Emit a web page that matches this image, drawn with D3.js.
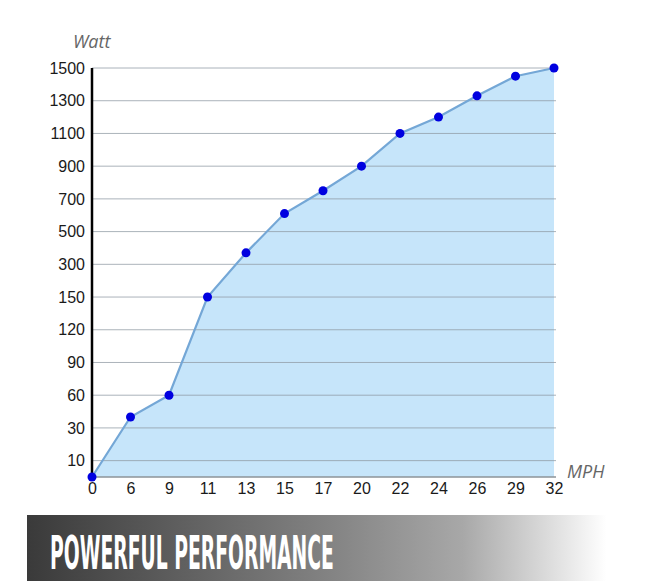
<!DOCTYPE html>
<html>
<head>
<meta charset="utf-8">
<script src="https://cdn.jsdelivr.net/npm/d3@7"></script>
<style>
  body { margin: 0; background: #fff; }
  svg { display: block; }
</style>
</head>
<body>
<svg id="chart" width="650" height="581"></svg>
<script>
// speed categories (x) and power ticks (y)
const speeds = [0, 6, 9, 11, 13, 15, 17, 20, 22, 24, 26, 29, 32];
const watts = [0, 40, 60, 150, 370, 610, 750, 900, 1100, 1200, 1330, 1450, 1500];
const yTicks = [10, 30, 60, 90, 120, 150, 300, 500, 700, 900, 1100, 1300, 1500];

const svg = d3.select("#chart");

const area_attr = {
    left: 92,
    right: 554,
    top: 68,
    bottom: 477
};

const scX = d3.scalePoint()
    .domain(speeds)
    .range([area_attr.left, area_attr.right]);

// y ticks are evenly spaced, 0 sits half a step under 10
const step = (area_attr.bottom - area_attr.top) / (yTicks.length - 0.5);
const scY = d3.scaleLinear()
    .domain([0].concat(yTicks))
    .range([area_attr.bottom].concat(yTicks.map((d, i) => area_attr.bottom - step / 2 - i * step)));

const points = speeds.map((s, i) => ({ x: s, y: watts[i] }));

// filled area
svg.append("path")
    .datum(points)
    .attr("d", d3.area()
        .x(d => scX(d.x))
        .y0(area_attr.bottom)
        .y1(d => scY(d.y)))
    .style("fill", "#c6e5fa");

// grid lines
svg.append("g")
    .selectAll("line")
    .data(yTicks)
    .enter()
    .append("line")
    .attr("x1", area_attr.left)
    .attr("x2", area_attr.right + 2)
    .attr("y1", d => scY(d))
    .attr("y2", d => scY(d))
    .style("stroke", "#8f9aa3")
    .style("stroke-opacity", 0.75)
    .style("stroke-width", 1);

svg.append("line")
    .attr("x1", area_attr.left)
    .attr("x2", area_attr.right + 2)
    .attr("y1", area_attr.bottom)
    .attr("y2", area_attr.bottom)
    .style("stroke", "#8c9398")
    .style("stroke-width", 1.5);

// y axis
const axisY = d3.axisLeft(scY)
    .tickValues(yTicks)
    .tickFormat(d3.format("d"))
    .tickSize(0)
    .tickPadding(7);
const gY = svg.append("g")
    .attr("transform", `translate(${area_attr.left}, 0)`)
    .call(axisY);
gY.select(".domain").remove();
gY.selectAll("text")
    .style("font-family", "Liberation Sans, Arial, sans-serif")
    .style("font-size", "16px")
    .style("fill", "#1a1a1a");

svg.append("line")
    .attr("x1", area_attr.left)
    .attr("x2", area_attr.left)
    .attr("y1", area_attr.top)
    .attr("y2", area_attr.bottom)
    .style("stroke", "#000")
    .style("stroke-width", 2.5);

// x axis
const axisX = d3.axisBottom(scX).tickSize(0).tickPadding(6);
const gX = svg.append("g")
    .attr("transform", `translate(0, ${area_attr.bottom})`)
    .call(axisX);
gX.select(".domain").remove();
gX.selectAll("text")
    .style("font-family", "Liberation Sans, Arial, sans-serif")
    .style("font-size", "16px")
    .style("fill", "#1a1a1a");

// line and dots
svg.append("path")
    .datum(points)
    .attr("d", d3.line()
        .x(d => scX(d.x))
        .y(d => scY(d.y)))
    .style("fill", "none")
    .style("stroke", "#74a7d6")
    .style("stroke-width", 2.2);

svg.selectAll(".dot")
    .data(points)
    .enter()
    .append("circle")
    .attr("class", "dot")
    .attr("cx", d => scX(d.x))
    .attr("cy", d => scY(d.y))
    .attr("r", 4.5)
    .style("fill", "#0000e0");

// axis titles
svg.append("text")
    .attr("x", 73)
    .attr("y", 48)
    .text("Watt")
    .style("font-family", "Open Sans, Liberation Sans, sans-serif")
    .style("font-style", "italic")
    .style("font-size", "18px")
    .style("fill", "#666");

svg.append("text")
    .attr("x", 567)
    .attr("y", 478)
    .text("MPH")
    .style("font-family", "Open Sans, Liberation Sans, sans-serif")
    .style("font-style", "italic")
    .style("font-size", "18px")
    .style("fill", "#666");

// banner
const grad = svg.append("defs").append("linearGradient")
    .attr("id", "banner")
    .attr("x1", "0%").attr("x2", "100%");
grad.append("stop").attr("offset", "0%").attr("stop-color", "#3a3a3a");
grad.append("stop").attr("offset", "50%").attr("stop-color", "#858585");
grad.append("stop").attr("offset", "70%").attr("stop-color", "#a8a8a8");
grad.append("stop").attr("offset", "93%").attr("stop-color", "#ffffff");
grad.append("stop").attr("offset", "100%").attr("stop-color", "#ffffff");

svg.append("rect")
    .attr("x", 27)
    .attr("y", 515)
    .attr("width", 623)
    .attr("height", 66)
    .style("fill", "url(#banner)");

// condensed look: squeeze the text horizontally to the width seen in the picture
const banner = svg.append("text")
    .attr("x", 0)
    .attr("y", 0)
    .text("POWERFUL PERFORMANCE")
    .style("font-family", "Liberation Sans Narrow, DejaVu Sans Condensed, sans-serif")
    .style("font-weight", "bold")
    .style("font-size", "46px")
    .style("fill", "#fff");
const natural = banner.node().getComputedTextLength();
banner.attr("transform", `translate(50, 569) scale(${284 / natural}, 1)`);
</script>
</body>
</html>
